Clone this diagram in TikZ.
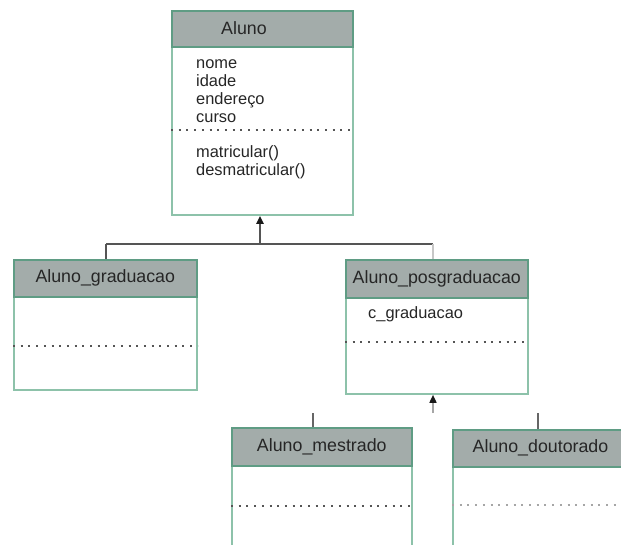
\documentclass[tikz,border=0pt]{standalone}
\usepackage{fontspec}
\setmainfont{Liberation Sans}
\usetikzlibrary{arrows.meta}
\definecolor{hdrfill}{HTML}{A3ACAA}
\definecolor{hdrline}{HTML}{5F9C84}
\definecolor{bodyline}{HTML}{8DC2AA}
\definecolor{connline}{HTML}{555555}
\definecolor{dotline}{HTML}{555555}
\tikzset{
  hdr/.style={rectangle, anchor=north west, inner sep=0pt, fill=hdrfill, draw=hdrline, line width=1.6pt},
  classbody/.style={rectangle, anchor=north west, inner sep=0pt, fill=white, draw=bodyline, line width=1.8pt},
  title/.style={inner sep=0pt, font=\fontsize{17.8}{20}\selectfont, text=black!85},
  member/.style={inner sep=0pt, anchor=base west, font=\fontsize{16.4}{18}\selectfont, text=black!85},
  sep/.style={draw=dotline, line width=2pt, dash pattern=on 2pt off 5.7pt},
  conn/.style={draw=connline, line width=2pt},
  faint/.style={draw=black!22, line width=1.6pt},
  inherit/.style={-{Triangle[length=8pt,width=7pt,color=black!90]}},
}
\begin{document}
\begin{tikzpicture}[x=1pt,y=-1pt]
\useasboundingbox (0,0) rectangle (621,544);
\begin{scope}
\clip (0,0) rectangle (621,544);

% class Aluno
\node[classbody, minimum width=181pt, minimum height=168pt] (aluno) at (171,46) {};
\node[hdr, minimum width=181pt, minimum height=36pt] (alunoH) at (171,10) {};
\node[title] (alunoT) at (244,28) {Aluno};
\node[member] (a1) at (196,68) {nome};
\node[member] (a2) at (196,86) {idade};
\node[member] (a3) at (196,104) {endereço};
\node[member] (a4) at (196,122) {curso};
\draw[sep] (aluno.west |- 0,129.5) -- (aluno.east |- 0,129.5);
\node[member] (m1) at (196,157) {matricular()};
\node[member] (m2) at (196,175) {desmatricular()};

% class Aluno_graduacao
\node[classbody, minimum width=183pt, minimum height=93pt] (grad) at (13,296) {};
\node[hdr, minimum width=183pt, minimum height=37pt] (gradH) at (13,259) {};
\node[title] (gradT) at (gradH.center) {Aluno\_graduacao};
\draw[sep] (grad.west |- 0,346) -- (grad.east |- 0,346);

% class Aluno_posgraduacao
\node[classbody, minimum width=182pt, minimum height=96pt] (pos) at (345,297) {};
\node[hdr, minimum width=182pt, minimum height=38pt] (posH) at (345,259) {};
\node[title] (posT) at (posH.center) {Aluno\_posgraduacao};
\node[member] (p1) at (368,318) {c\_graduacao};
\draw[sep] (pos.west |- 0,342) -- (pos.east |- 0,342);

% class Aluno_mestrado
\node[classbody, minimum width=180pt, minimum height=100pt] (mes) at (231,465) {};
\node[hdr, minimum width=180pt, minimum height=38pt] (mesH) at (231,427) {};
\node[title] (mesT) at (mesH.center) {Aluno\_mestrado};
\draw[sep] (mes.west |- 0,506) -- (mes.east |- 0,506);

% class Aluno_doutorado
\node[classbody, minimum width=180pt, minimum height=100pt] (dou) at (452,466) {};
\node[hdr, minimum width=180pt, minimum height=37pt] (douH) at (452,429) {};
\node[title] (douT) at (540.5,447.5) {Aluno\_doutorado};
\draw[sep, draw=black!35] (dou.west |- 0,505) -- (dou.east |- 0,505);

% generalisation: Aluno <- graduacao, posgraduacao
\coordinate (j1) at (260,244);
\coordinate (jl) at (106,244);
\coordinate (jr) at (433,244);
\draw[conn, inherit] (j1) -- (j1 |- aluno.south);
\draw[conn] (jl) -- (jr);
\draw[conn] (jl) -- (jl |- gradH.north);
\draw[faint] (jr) -- (jr |- posH.north);

% generalisation: Aluno_posgraduacao <- mestrado, doutorado
\coordinate (j2) at (433,413);
\coordinate (sm) at (313,413);
\coordinate (sd) at (538,413);
\draw[faint, draw=black!35, inherit] (j2) -- (j2 |- pos.south);
\draw[conn, draw=black!60] (sm) -- (sm |- mesH.north);
\draw[conn, draw=black!60] (sd) -- (sd |- douH.north);
\end{scope}
\end{tikzpicture}
\end{document}
